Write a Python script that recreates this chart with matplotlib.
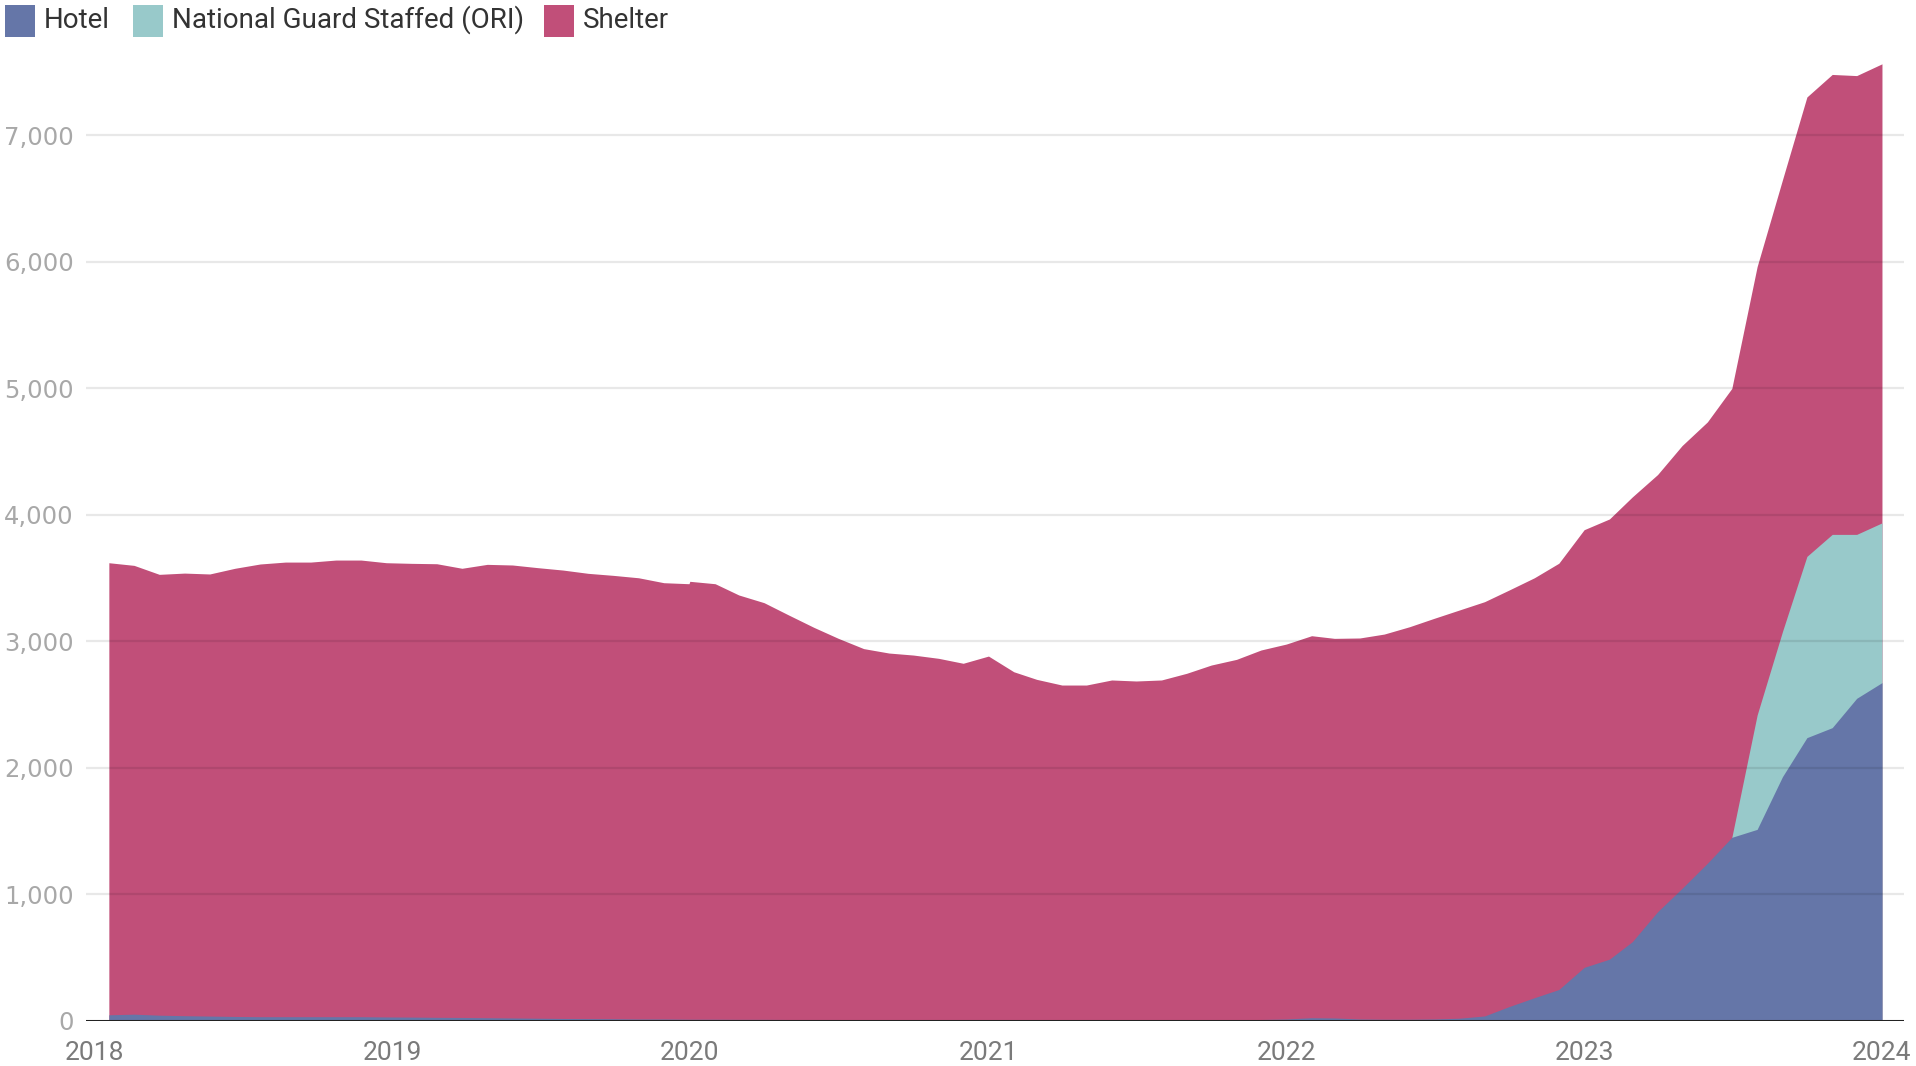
import matplotlib
matplotlib.use("Agg")
import matplotlib.pyplot as plt
import matplotlib.dates as mdates
from matplotlib.patches import Rectangle
import numpy as np
import pandas as pd

plt.rcParams['font.family'] = ['Roboto', 'DejaVu Sans']

# report dates: roughly monthly in 2018-2019, first of month from 2020
dates_1819 = pd.date_range("2018-01-19", "2019-12-31", periods=24)
dates_2023 = pd.date_range("2020-01-01", "2024-01-01", freq="MS")
dates = dates_1819.append(dates_2023)

hotel = [
    45, 50, 42, 38, 35, 32, 30, 30, 30, 30, 30, 28,
    27, 25, 24, 22, 20, 18, 16, 15, 14, 12, 12, 10,
    10, 10, 9, 9, 8, 8, 8, 7, 7, 7, 6, 6,
    6, 6, 6, 5, 5, 5, 5, 5, 5, 5, 6, 8,
    12, 22, 20, 12, 10, 10, 12, 18, 36, 110, 180, 245,
    420, 485, 623, 860, 1045, 1243, 1448, 1511, 1927, 2236, 2315, 2547,
    2671,
]
national_guard = [0] * 66 + [0, 904, 1147, 1433, 1528, 1296, 1263]
shelter = [
    3574, 3548, 3485, 3499, 3495, 3543, 3579, 3594, 3594, 3610, 3610, 3591,
    3587, 3586, 3551, 3584, 3581, 3562, 3545, 3520, 3505, 3488, 3449, 3443,
    3462, 3443, 3355, 3294, 3198, 3100, 3013, 2933, 2898, 2882, 2857, 2818,
    2875, 2751, 2691, 2647, 2647, 2687, 2679, 2687, 2740, 2805, 2849, 2921,
    2964, 3020, 3001, 3012, 3045, 3103, 3167, 3227, 3275, 3293, 3320, 3370,
    3460, 3480, 3516, 3456, 3500, 3489, 3549, 3545, 3571, 3632, 3636, 3627,
    3629,
]

series_names = ["Hotel", "National Guard Staffed (ORI)", "Shelter"]
colors = ["#6576A8", "#98C9CA", "#C14F79"]
y_ticks = [0, 1000, 2000, 3000, 4000, 5000, 6000, 7000]
years = [2018, 2019, 2020, 2021, 2022, 2023, 2024]

W, H = 1916, 1066
fig = plt.figure(figsize=(W / 100, H / 100), dpi=100)
ax = fig.add_axes([86 / W, (H - 1020.5) / H, (1904 - 86) / W, 974 / H])

x = mdates.date2num(dates)
h = np.array(hotel, dtype=float)
g = np.array(national_guard, dtype=float)
s = np.array(shelter, dtype=float)

# overlapping fills from zero so no seams show between layers
ax.fill_between(x, 0, h + g + s, color=colors[2], lw=0, zorder=2)
start = np.argmax(g > 0) - 1
ax.fill_between(x[start:], 0, (h + g)[start:], color=colors[1], lw=0, zorder=3)
ax.fill_between(x, 0, h, color=colors[0], lw=0, zorder=4)

for v in y_ticks[1:]:
    ax.axhline(v, color="black", alpha=0.09, lw=1.6, zorder=5)
ax.axhline(0, color="#222222", lw=2.2, zorder=6)

ax.set_xlim(mdates.date2num(pd.Timestamp("2017-12-22")),
            mdates.date2num(pd.Timestamp("2024-01-28")))
ax.set_ylim(0, 7700)
ax.set_xticks([mdates.date2num(pd.Timestamp(f"{y}-01-01")) for y in years])
ax.set_xticklabels([str(y) for y in years], fontsize=19, color="#7a7a7a")
ax.set_yticks(y_ticks)
ax.set_yticklabels([f"{v:,}" for v in y_ticks], fontsize=17.5, color="#a8a8a8",
                   family=["DejaVu Sans"])
ax.tick_params(axis="x", length=0, pad=14.5)
ax.tick_params(axis="y", length=0, pad=9)
for sp in ax.spines.values():
    sp.set_visible(False)
ax.patch.set_visible(False)

# legend along the top
legend_x = [5, 133, 544]
for lx, name, c in zip(legend_x, series_names, colors):
    fig.add_artist(Rectangle((lx / W, 1 - 37 / H), 30 / W, 32 / H,
                             transform=fig.transFigure, color=c, lw=0))
    fig.text((lx + 39) / W, 1 - 20 / H, name, fontsize=20, color="#333333",
             va="center", ha="left")

fig.savefig("out.png", dpi=100)
